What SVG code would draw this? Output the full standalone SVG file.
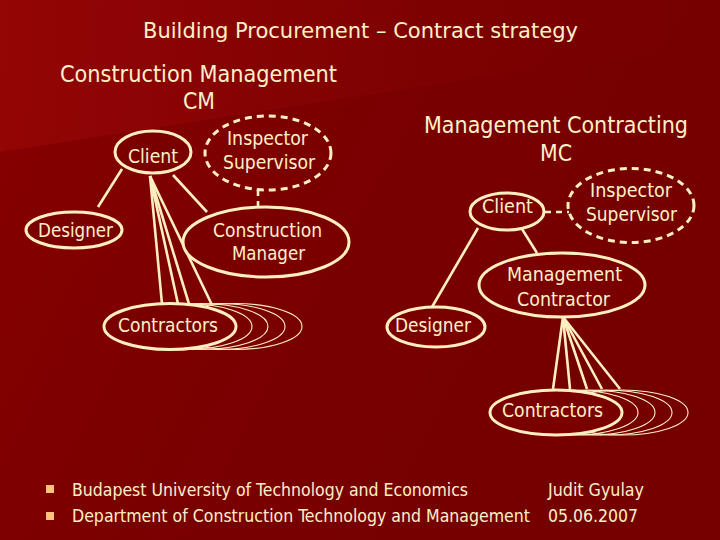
<svg xmlns="http://www.w3.org/2000/svg" width="720" height="540" viewBox="0 0 720 540">
<defs>
<linearGradient id="bg" x1="0" y1="0" x2="1" y2="0.4">
<stop offset="0" stop-color="#880000"/>
<stop offset="0.5" stop-color="#7a0000"/>
<stop offset="1" stop-color="#740000"/>
</linearGradient>
<linearGradient id="hl" x1="0" y1="0" x2="1" y2="0">
<stop offset="0" stop-color="#960606" stop-opacity="0.85"/>
<stop offset="0.6" stop-color="#860404" stop-opacity="0.35"/>
<stop offset="1" stop-color="#7a0000" stop-opacity="0"/>
</linearGradient>
<style>
text{font-family:"DejaVu Sans Condensed","DejaVu Sans","Liberation Sans",sans-serif;fill:#fff0c8}
.t{font-size:21px}
.h{font-size:23px}
.n{font-size:19.5px}
.f{font-size:17px}
.node{fill:#7a0000;stroke:#ffefc0;stroke-width:3}
.dash{fill:none;stroke:#ffefc0;stroke-width:3;stroke-dasharray:7 5}
.back{fill:none;stroke:#ffefc0;stroke-width:1.1}
.ln{stroke:#ffefc0;stroke-width:2.6;fill:none}
.dl{stroke:#ffefc0;stroke-width:2.6;fill:none;stroke-dasharray:6 5}
</style>
</defs>
<rect width="720" height="540" fill="url(#bg)"/>
<polygon points="0,0 720,0 720,40 0,152" fill="url(#hl)"/>

<text class="t" x="143" y="38" textLength="435" lengthAdjust="spacingAndGlyphs">Building Procurement – Contract strategy</text>
<text class="h" x="60" y="82" textLength="277" lengthAdjust="spacingAndGlyphs">Construction Management</text>
<text class="h" x="183" y="109" textLength="32" lengthAdjust="spacingAndGlyphs">CM</text>
<text class="h" x="424" y="133" textLength="264" lengthAdjust="spacingAndGlyphs">Management Contracting</text>
<text class="h" x="540" y="161" textLength="32" lengthAdjust="spacingAndGlyphs">MC</text>

<g id="connectors">
<line class="ln" x1="122" y1="169" x2="98" y2="207"/>
<line class="ln" x1="173" y1="175" x2="207" y2="212"/>
<line class="ln" x1="150" y1="176" x2="162" y2="304"/>
<line class="ln" x1="150" y1="176" x2="178" y2="304"/>
<line class="ln" x1="150" y1="176" x2="189" y2="304"/>
<line class="ln" x1="150" y1="176" x2="212" y2="305"/>
<line class="dl" x1="258" y1="190" x2="258" y2="207"/>
<line class="ln" x1="478" y1="228" x2="432" y2="307"/>
<line class="ln" x1="522" y1="229" x2="537" y2="253"/>
<line class="dl" x1="545" y1="212" x2="569" y2="212"/>
<line class="ln" x1="563" y1="317" x2="553" y2="389"/>
<line class="ln" x1="563" y1="317" x2="570" y2="389"/>
<line class="ln" x1="563" y1="317" x2="587" y2="389"/>
<line class="ln" x1="563" y1="317" x2="602" y2="389"/>
<line class="ln" x1="563" y1="317" x2="620" y2="389"/>
</g>

<g id="cm-client">
<ellipse class="node" cx="153" cy="152" rx="38" ry="21"/>
<text class="n" x="128" y="163" textLength="50" lengthAdjust="spacingAndGlyphs">Client</text>
</g>
<g id="cm-inspector">
<ellipse class="dash" cx="268" cy="153" rx="63" ry="37"/>
<text class="n" x="227" y="145" textLength="81" lengthAdjust="spacingAndGlyphs">Inspector</text>
<text class="n" x="223" y="169" textLength="92" lengthAdjust="spacingAndGlyphs">Supervisor</text>
</g>
<g id="cm-designer">
<ellipse class="node" cx="74" cy="230" rx="48" ry="18"/>
<text class="n" x="38" y="237" textLength="75" lengthAdjust="spacingAndGlyphs">Designer</text>
</g>
<g id="cm-manager">
<ellipse class="node" cx="266" cy="242" rx="83" ry="35"/>
<text class="n" x="213" y="237" textLength="109" lengthAdjust="spacingAndGlyphs">Construction</text>
<text class="n" x="232" y="260" textLength="73" lengthAdjust="spacingAndGlyphs">Manager</text>
</g>
<g id="cm-contractors">
<ellipse class="back" cx="235" cy="326.5" rx="67" ry="23"/>
<ellipse class="back" cx="218" cy="326.5" rx="67" ry="23"/>
<ellipse class="back" cx="201" cy="326.5" rx="67" ry="23"/>
<ellipse class="back" cx="185" cy="326.5" rx="67" ry="23"/>
<ellipse class="node" cx="170" cy="326.5" rx="66" ry="23"/>
<text class="n" x="118" y="332" textLength="100" lengthAdjust="spacingAndGlyphs">Contractors</text>
</g>

<g id="mc-client">
<ellipse class="node" cx="507" cy="211.5" rx="37" ry="18.5"/>
<text class="n" x="482" y="213" textLength="51" lengthAdjust="spacingAndGlyphs">Client</text>
</g>
<g id="mc-inspector">
<ellipse class="dash" cx="631" cy="205.5" rx="63" ry="37"/>
<text class="n" x="590" y="197" textLength="82" lengthAdjust="spacingAndGlyphs">Inspector</text>
<text class="n" x="586" y="221" textLength="91" lengthAdjust="spacingAndGlyphs">Supervisor</text>
</g>
<g id="mc-contractor">
<ellipse class="node" cx="562" cy="285" rx="83" ry="32"/>
<text class="n" x="507" y="281" textLength="115" lengthAdjust="spacingAndGlyphs">Management</text>
<text class="n" x="517" y="306" textLength="93" lengthAdjust="spacingAndGlyphs">Contractor</text>
</g>
<g id="mc-designer">
<ellipse class="node" cx="436" cy="327" rx="49" ry="20"/>
<text class="n" x="395" y="332" textLength="76" lengthAdjust="spacingAndGlyphs">Designer</text>
</g>
<g id="mc-contractors">
<ellipse class="back" cx="622" cy="412.5" rx="66" ry="22.5"/>
<ellipse class="back" cx="606" cy="412.5" rx="66" ry="22.5"/>
<ellipse class="back" cx="589" cy="412.5" rx="66" ry="22.5"/>
<ellipse class="back" cx="572" cy="412.5" rx="66" ry="22.5"/>
<ellipse class="node" cx="556" cy="412.5" rx="66" ry="22.5"/>
<text class="n" x="502" y="417" textLength="101" lengthAdjust="spacingAndGlyphs">Contractors</text>
</g>

<g id="footer">
<rect x="46" y="485" width="8" height="8" fill="#ffc27a"/>
<rect x="46" y="512" width="8" height="8" fill="#ffc27a"/>
<text class="f" x="72" y="496" textLength="396" lengthAdjust="spacingAndGlyphs">Budapest University of Technology and Economics</text>
<text class="f" x="548" y="496" textLength="96" lengthAdjust="spacingAndGlyphs">Judit Gyulay</text>
<text class="f" x="72" y="522" textLength="458" lengthAdjust="spacingAndGlyphs">Department of Construction Technology and Management</text>
<text class="f" x="548" y="522" textLength="90" lengthAdjust="spacingAndGlyphs">05.06.2007</text>
</g>
</svg>
